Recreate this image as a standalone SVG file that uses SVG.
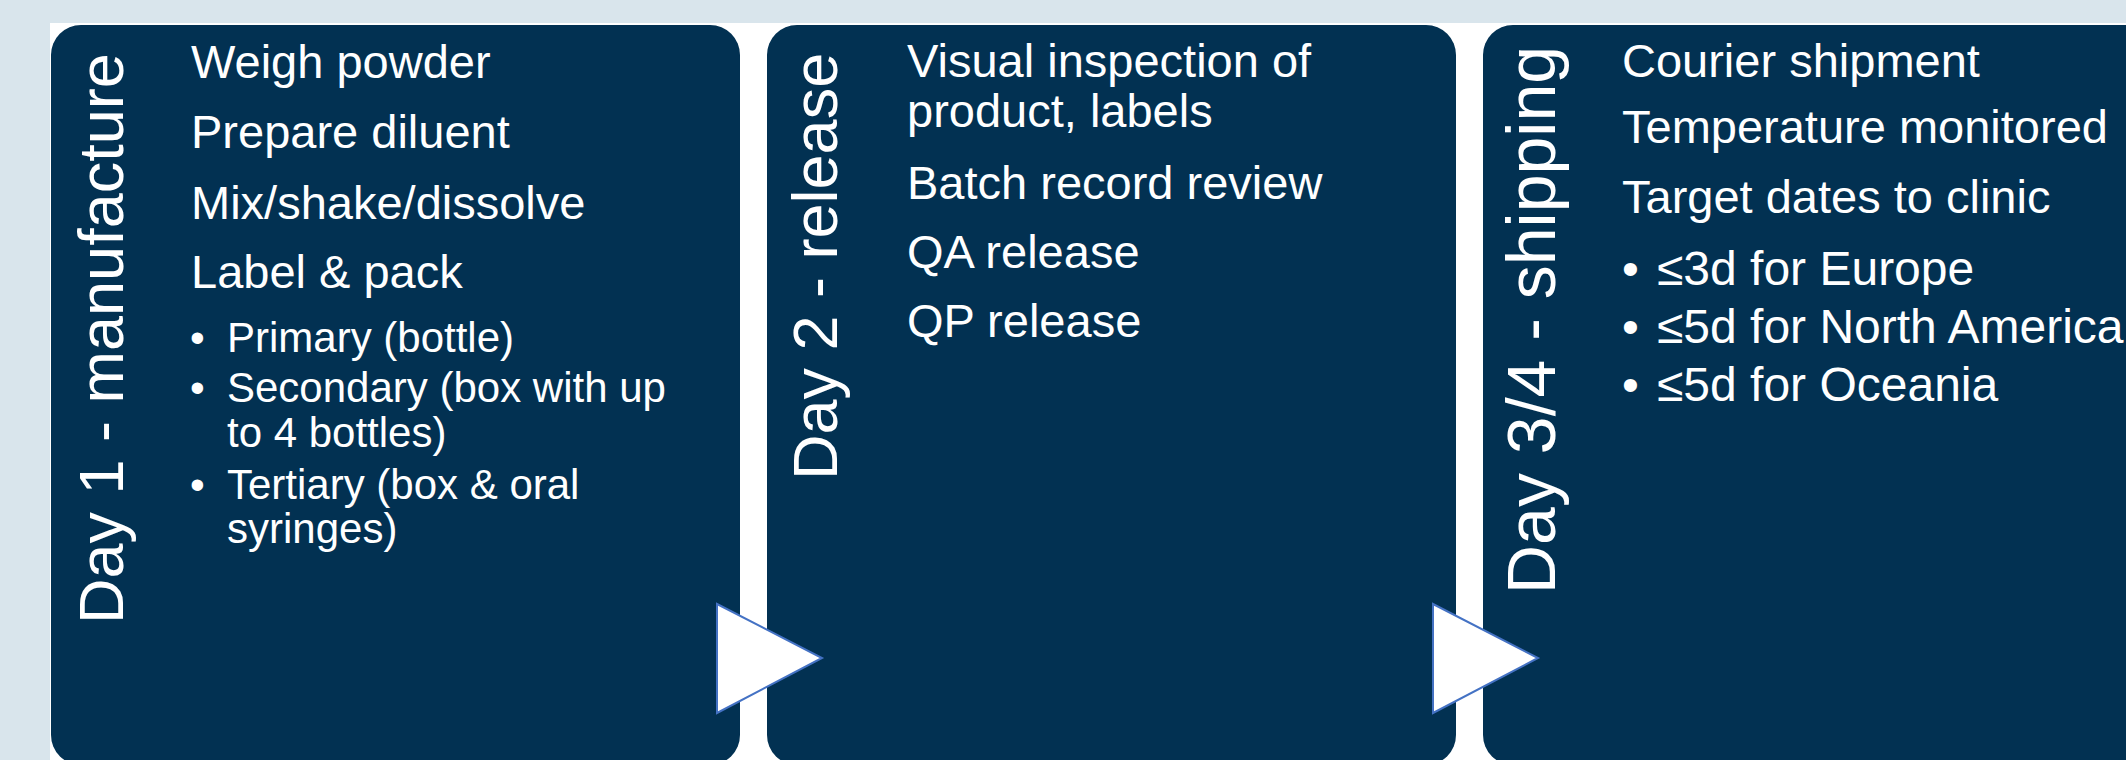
<svg xmlns="http://www.w3.org/2000/svg" width="2126" height="760" viewBox="0 0 2126 760">
  <defs>
    <style>
      .stage { fill: #023152; }
      .txt { fill: #ffffff; font-family: "Liberation Sans", Arial, sans-serif; }
      .label { font-size: 63px; }
      .label3 { font-size: 68px; }
      .item { font-size: 47px; }
      .sub { font-size: 42px; }
      .item3 { font-size: 47px; }
      .sub3 { font-size: 48px; }
      .arrow { fill: #ffffff; stroke: #4472c4; stroke-width: 2; stroke-linejoin: miter; }
    </style>
  </defs>

  <!-- backdrop -->
  <rect x="0" y="0" width="2126" height="760" fill="#d9e5ec"/>
  <rect x="50" y="23" width="2076" height="737" fill="#ffffff"/>

  <!-- stage 1 -->
  <g id="day1">
    <rect class="stage" x="51" y="25" width="689" height="740" rx="30" ry="30"/>
    <text class="txt label" transform="translate(123,624) rotate(-90)">Day 1 - manufacture</text>
    <text class="txt item" x="191" y="78">Weigh powder</text>
    <text class="txt item" x="191" y="148">Prepare diluent</text>
    <text class="txt item" x="191" y="219">Mix/shake/dissolve</text>
    <text class="txt item" x="191" y="288">Label &amp; pack</text>
    <text class="txt sub" x="190" y="352">•</text>
    <text class="txt sub" x="227" y="352">Primary (bottle)</text>
    <text class="txt sub" x="190" y="402">•</text>
    <text class="txt sub" x="227" y="402">Secondary (box with up</text>
    <text class="txt sub" x="227" y="447">to 4 bottles)</text>
    <text class="txt sub" x="190" y="499">•</text>
    <text class="txt sub" x="227" y="499">Tertiary (box &amp; oral</text>
    <text class="txt sub" x="227" y="543">syringes)</text>
  </g>

  <!-- stage 2 -->
  <g id="day2">
    <rect class="stage" x="767" y="25" width="689" height="740" rx="30" ry="30"/>
    <text class="txt label" transform="translate(837,480) rotate(-90)">Day 2 - release</text>
    <text class="txt item" x="907" y="77">Visual inspection of</text>
    <text class="txt item" x="907" y="127">product, labels</text>
    <text class="txt item" x="907" y="199">Batch record review</text>
    <text class="txt item" x="907" y="268">QA release</text>
    <text class="txt item" x="907" y="337">QP release</text>
  </g>

  <!-- stage 3 -->
  <g id="day3">
    <rect class="stage" x="1483" y="25" width="700" height="740" rx="30" ry="30"/>
    <text class="txt label3" transform="translate(1555,594) rotate(-90)">Day 3/4 - shipping</text>
    <text class="txt item3" x="1622" y="77">Courier shipment</text>
    <text class="txt item3" x="1622" y="143">Temperature monitored</text>
    <text class="txt item3" x="1622" y="213">Target dates to clinic</text>
    <text class="txt sub3" x="1622" y="285">•</text>
    <text class="txt sub3" x="1657" y="285">≤3d for Europe</text>
    <text class="txt sub3" x="1622" y="343">•</text>
    <text class="txt sub3" x="1657" y="343">≤5d for North America</text>
    <text class="txt sub3" x="1622" y="401">•</text>
    <text class="txt sub3" x="1657" y="401">≤5d for Oceania</text>
  </g>

  <!-- flow arrows between stages -->
  <g id="connectors">
    <polygon class="arrow" points="717,604 822,658 717,713"/>
    <polygon class="arrow" points="1433,604 1538,658 1433,713"/>
  </g>
</svg>
